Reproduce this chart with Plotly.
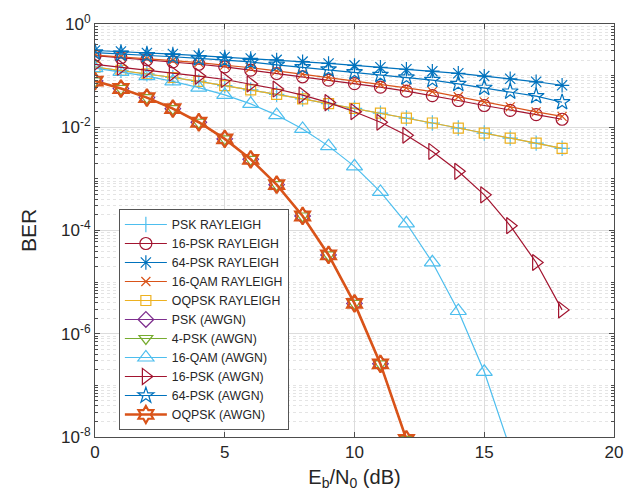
import plotly.graph_objects as go

# Eb/N0 grid (dB)
ebno = list(range(19))
ebno_bpsk = list(range(13))
ebno_qam16_awgn = list(range(17))

# Rayleigh fading BER
psk_rayleigh = [0.1464, 0.1267, 0.1085, 0.0919, 0.0771, 0.0642, 0.0530, 0.0435, 0.0355,
                0.0288, 0.0233, 0.01875, 0.01507, 0.01208, 0.00966, 0.00772, 0.00617,
                0.00492, 0.00391]
psk16_rayleigh = [0.243, 0.222, 0.203, 0.185, 0.166, 0.148, 0.128, 0.110, 0.095, 0.082,
                  0.070, 0.060, 0.050, 0.041, 0.033, 0.0264, 0.0212, 0.0176, 0.0143]
psk64_rayleigh = [0.307, 0.294, 0.275, 0.262, 0.245, 0.229, 0.215, 0.202, 0.187, 0.172,
                  0.158, 0.145, 0.133, 0.122, 0.111, 0.098, 0.087, 0.076, 0.065]
qam16_rayleigh = [0.25, 0.232, 0.214, 0.196, 0.178, 0.160, 0.142, 0.124, 0.107, 0.093,
                  0.080, 0.068, 0.058, 0.049, 0.039, 0.031, 0.0248, 0.0198, 0.0163]
oqpsk_rayleigh = [0.1464, 0.1267, 0.1085, 0.0919, 0.0771, 0.0642, 0.0530, 0.0435, 0.0355,
                  0.0288, 0.0233, 0.01875, 0.01507, 0.01208, 0.00966, 0.00772, 0.00617,
                  0.00492, 0.00391]

# AWGN BER
bpsk_awgn = [7.86e-2, 5.63e-2, 3.75e-2, 2.29e-2, 1.25e-2, 5.95e-3, 2.39e-3, 7.73e-4,
             1.91e-4, 3.36e-5, 3.87e-6, 2.61e-7, 9.0e-9]
psk4_awgn = [7.86e-2, 5.63e-2, 3.75e-2, 2.29e-2, 1.25e-2, 5.95e-3, 2.39e-3, 7.73e-4,
             1.91e-4, 3.36e-5, 3.87e-6, 2.61e-7, 9.0e-9]
qam16_awgn = [0.1392, 0.1184, 0.0978, 0.0774, 0.0587, 0.0424, 0.0284, 0.0172, 0.00926,
              0.00431, 0.00175, 5.6e-4, 1.38e-4, 2.42e-5, 2.76e-6, 1.83e-7, 5.9e-9]
psk16_awgn = [0.165, 0.145, 0.128, 0.112, 0.098, 0.084, 0.069, 0.055, 0.042, 0.030,
              0.020, 0.0125, 0.0070, 0.0034, 0.0014, 4.9e-4, 1.24e-4, 2.4e-5, 2.9e-6]
psk64_awgn = [0.28, 0.265, 0.248, 0.232, 0.215, 0.200, 0.184, 0.162, 0.145, 0.132, 0.116,
              0.103, 0.092, 0.082, 0.069, 0.058, 0.049, 0.040, 0.0305]
oqpsk_awgn = [7.86e-2, 5.63e-2, 3.75e-2, 2.29e-2, 1.25e-2, 5.95e-3, 2.39e-3, 7.73e-4,
              1.91e-4, 3.36e-5, 3.87e-6, 2.61e-7, 9.0e-9]

y_tickvals = [1e-8, 1e-6, 1e-4, 1e-2, 1]
y_ticktext = ["10<sup>-8</sup>", "10<sup>-6</sup>", "10<sup>-4</sup>", "10<sup>-2</sup>", "10<sup>0</sup>"]

BLUE = "#0072BD"
ORANGE = "#D95319"
YELLOW = "#EDB120"
PURPLE = "#7E2F8E"
GREEN = "#77AC30"
CYAN = "#4DBEEE"
WINE = "#A2142F"

series = [
    ("PSK RAYLEIGH", ebno, psk_rayleigh, CYAN, "cross-thin-open", 11, 1.2),
    ("16-PSK RAYLEIGH", ebno, psk16_rayleigh, WINE, "circle-open", 12, 1.2),
    ("64-PSK RAYLEIGH", ebno, psk64_rayleigh, BLUE, "asterisk-open", 12, 1.2),
    ("16-QAM RAYLEIGH", ebno, qam16_rayleigh, ORANGE, "x-thin-open", 9, 1.2),
    ("OQPSK RAYLEIGH", ebno, oqpsk_rayleigh, YELLOW, "square-open", 10, 1.2),
    ("PSK (AWGN)", ebno_bpsk, bpsk_awgn, PURPLE, "diamond-open", 12, 1.2),
    ("4-PSK (AWGN)", ebno_bpsk, psk4_awgn, GREEN, "triangle-down-open", 12, 1.2),
    ("16-QAM (AWGN)", ebno_qam16_awgn, qam16_awgn, CYAN, "triangle-up-open", 14, 1.2),
    ("16-PSK (AWGN)", ebno, psk16_awgn, WINE, "triangle-right-open", 14, 1.2),
    ("64-PSK (AWGN)", ebno, psk64_awgn, BLUE, "star-open", 12, 1.2),
    ("OQPSK (AWGN)", ebno_bpsk, oqpsk_awgn, ORANGE, "hexagram-open", 13, 2.6),
]

fig = go.Figure()
for name, xs, ys, color, symbol, size, lw in series:
    fig.add_trace(go.Scatter(
        x=xs, y=ys, name=name, mode="lines+markers",
        line=dict(color=color, width=lw),
        marker=dict(symbol=symbol, size=size, color=color,
                    line=dict(color=color, width=2.2 if lw > 2 else 1.2)),
    ))

axis_color = "#4d4d4d"
grid_color = "#dcdcdc"
font_family = "Liberation Sans, Arial, sans-serif"

fig.update_layout(
    width=640, height=502,
    margin=dict(l=95, r=26, t=17, b=65),
    paper_bgcolor="white", plot_bgcolor="white",
    font=dict(family=font_family, color="#262626"),
    showlegend=True,
    legend=dict(
        x=0.046, y=0.017, xanchor="left", yanchor="bottom",
        bgcolor="white", bordercolor="#555555", borderwidth=1,
        font=dict(size=12.3, family=font_family, color="#262626"),
        itemwidth=42, tracegroupgap=0,
    ),
)

fig.update_xaxes(
    range=[0, 20], dtick=5, tick0=0,
    showline=True, linecolor=axis_color, linewidth=1, mirror="ticks",
    ticks="inside", ticklen=5, tickcolor=axis_color,
    showgrid=True, gridcolor=grid_color, gridwidth=1,
    zeroline=False,
    tickfont=dict(size=17, family=font_family, color="#262626"),
    title=dict(text="E<sub>b</sub>/N<sub>0</sub> (dB)", standoff=8,
               font=dict(size=20, family=font_family, color="#262626")),
)

fig.update_yaxes(
    type="log", range=[-8, 0],
    tickvals=y_tickvals, ticktext=y_ticktext,
    showline=True, linecolor=axis_color, linewidth=1, mirror="ticks",
    ticks="inside", ticklen=5, tickcolor=axis_color,
    showgrid=True, gridcolor=grid_color, gridwidth=1,
    minor=dict(dtick="D1", showgrid=True, gridcolor="#e4e4e4", griddash="dot",
               ticks="inside", ticklen=3, tickcolor=axis_color),
    zeroline=False,
    tickfont=dict(size=17, family=font_family, color="#262626"),
    title=dict(text="BER", standoff=18,
               font=dict(size=21, family=font_family, color="#262626")),
)

fig.write_html("out.html")
